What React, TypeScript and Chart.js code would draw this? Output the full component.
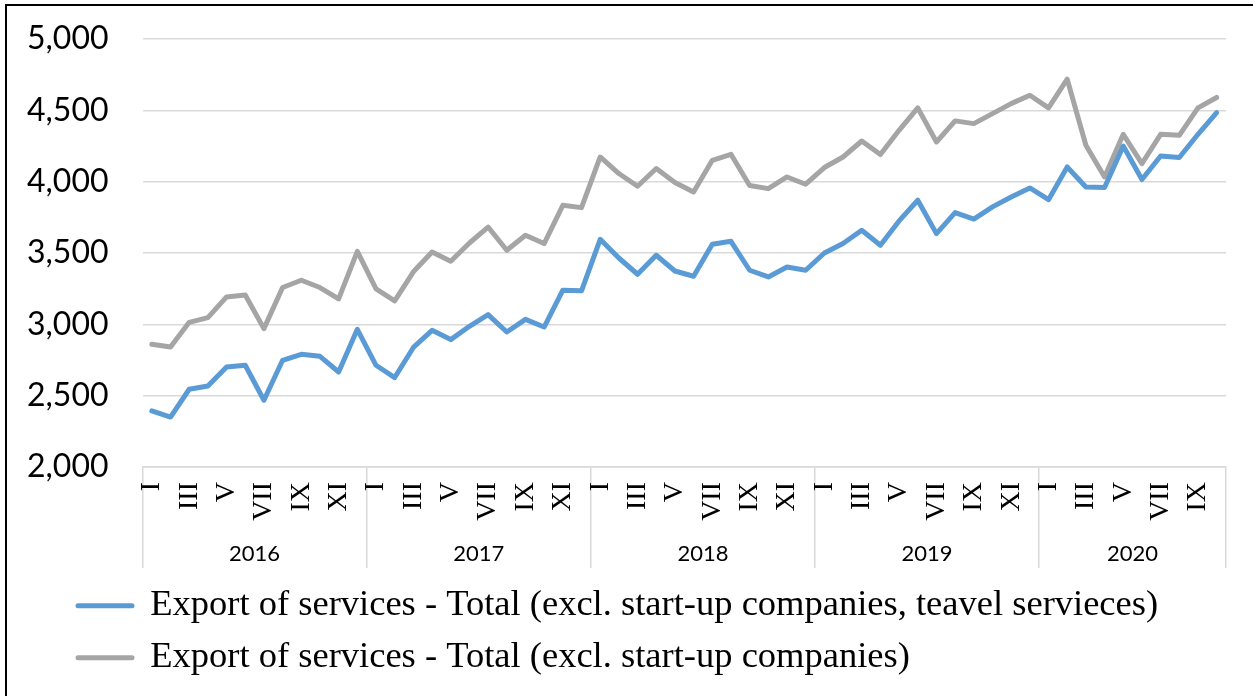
import React, { useEffect, useRef } from "react";
import { Chart, registerables } from "chart.js";

Chart.register(...registerables);

// ---- data ----
const years = ["2016", "2017", "2018", "2019", "2020"];
const monthsPerYear = [12, 12, 12, 12, 10];
const monthNumerals = ["I", "II", "III", "IV", "V", "VI", "VII", "VIII", "IX", "X", "XI", "XII"];

const seriesNames = [
  "Export of services - Total (excl. start-up companies, teavel servieces)",
  "Export of services - Total (excl. start-up companies)",
];

const exportExclTravel = [
  2393, 2350, 2545, 2568, 2701, 2713, 2468, 2748, 2790, 2776, 2666, 2965,
  2713, 2627, 2838, 2958, 2893, 2986, 3068, 2946, 3035, 2981, 3239, 3235,
  3596, 3465, 3351, 3484, 3374, 3337, 3561, 3582, 3379, 3332, 3402, 3379,
  3500, 3566, 3659, 3554, 3725, 3870, 3636, 3783, 3738, 3823, 3893, 3956,
  3874, 4103, 3963, 3959, 4250, 4015, 4180, 4169, 4332, 4484,
];

const exportTotal = [
  2860, 2841, 3014, 3047, 3192, 3206, 2970, 3258, 3309, 3258, 3178, 3512,
  3248, 3164, 3368, 3507, 3442, 3570, 3682, 3519, 3624, 3566, 3834, 3818,
  4173, 4057, 3968, 4092, 3994, 3928, 4150, 4192, 3973, 3951, 4033, 3982,
  4099, 4173, 4285, 4190, 4360, 4517, 4278, 4426, 4407, 4477, 4547, 4606,
  4517, 4718, 4255, 4033, 4332, 4127, 4332, 4325, 4517, 4590,
];

const yMin = 2000;
const yMax = 5000;
const yStep = 500;

const BLUE = "#5B9BD5";
const GREY = "#A5A5A5";
const GRID = "#D9D9D9";

// let the y tick labels use the room to the left of the axis box (no clipping)
const yLabelRoom = {
  id: "yLabelRoom",
  afterLayout(chart: any) {
    const y = chart.scales.y;
    if (y) y.left = 0;
  },
};

export default function App() {
  const ref = useRef<HTMLCanvasElement>(null);

  useEffect(() => {
    const labels: string[] = [];
    const yearStarts: number[] = [];
    const yearCenters: number[] = [];
    let k = 0;
    years.forEach((_, yi) => {
      yearStarts.push(k);
      yearCenters.push(k + monthsPerYear[yi] / 2 - 0.5);
      for (let m = 0; m < monthsPerYear[yi]; m++) labels.push(monthNumerals[m]);
      k += monthsPerYear[yi];
    });
    const n = labels.length;

    const chart = new Chart(ref.current as HTMLCanvasElement, {
      type: "line",
      data: {
        labels,
        datasets: [
          {
            label: seriesNames[0],
            data: exportExclTravel,
            borderColor: BLUE,
            backgroundColor: BLUE,
            borderWidth: 5,
            pointRadius: 0,
            tension: 0,
            fill: false,
            borderJoinStyle: "round",
            borderCapStyle: "round",
          },
          {
            label: seriesNames[1],
            data: exportTotal,
            borderColor: GREY,
            backgroundColor: GREY,
            borderWidth: 5,
            pointRadius: 0,
            tension: 0,
            fill: false,
            borderJoinStyle: "round",
            borderCapStyle: "round",
          },
        ],
      },
      plugins: [yLabelRoom],
      options: {
        responsive: false,
        animation: false,
        layout: { padding: { left: 62.5, right: 27, top: 39, bottom: 10 } },
        plugins: {
          tooltip: { enabled: false },
          legend: {
            position: "bottom",
            align: "start",
            labels: {
              font: { family: "'Liberation Serif', serif", size: 36.5 },
              color: "#000",
              boxWidth: 54,
              boxHeight: 0,
              padding: 15.5,
            },
          },
        },
        scales: {
          x: {
            type: "category",
            position: "bottom",
            offset: true,
            weight: 0,
            grid: {
              offset: true,
              drawOnChartArea: false,
              drawTicks: true,
              tickLength: 101,
              lineWidth: 1.5,
              color: (c: any) =>
                c.type !== "tick" || yearStarts.includes(c.index) ? GRID : "rgba(0,0,0,0)",
            },
            border: { display: true, color: GRID, width: 1.5 },
            ticks: {
              autoSkip: false,
              minRotation: 90,
              maxRotation: 90,
              padding: -86,
              color: "#000",
              font: { family: "'Liberation Serif', serif", size: 28 },
              callback: function (this: any, value: any, index: number) {
                return index % 2 === 0 ? this.getLabelForValue(value) : "";
              },
            },
            afterFit: (s: any) => {
              s.height = 70;
            },
          },
          x2: {
            type: "linear",
            axis: "x",
            position: "bottom",
            weight: 1,
            min: -0.5,
            max: n - 0.5,
            grid: { display: false },
            border: { display: false },
            ticks: {
              autoSkip: false,
              maxRotation: 0,
              padding: -4,
              color: "#000",
              font: { family: "Lato, sans-serif", size: 22 },
              callback: (_v: any, index: number) => years[index] ?? "",
            },
            afterBuildTicks: (s: any) => {
              s.ticks = yearCenters.map((v) => ({ value: v }));
            },
            afterFit: (s: any) => {
              s.height = 35;
            },
          },
          y: {
            min: yMin,
            max: yMax,
            grid: { color: GRID, lineWidth: 1.5, drawTicks: false },
            border: { display: false },
            ticks: {
              stepSize: yStep,
              padding: 34,
              color: "#000",
              font: { family: "Lato, sans-serif", size: 32 },
              callback: (v: any) => Number(v).toLocaleString("en-US"),
            },
            afterFit: (s: any) => {
              s.width = 80;
              s.paddingTop = 0;
              s.paddingBottom = 0;
            },
          },
        },
      },
    } as any);

    return () => chart.destroy();
  }, []);

  return (
    <div
      style={{
        position: "fixed",
        left: 0,
        top: 0,
        width: 1253,
        height: 696,
        background: "#fff",
        overflow: "hidden",
      }}
    >
      <canvas ref={ref} width={1253} height={696} style={{ display: "block" }} />
      <div
        style={{
          position: "absolute",
          left: 5,
          top: 4,
          right: 0,
          bottom: 0,
          borderLeft: "2px solid #000",
          borderTop: "2px solid #000",
          pointerEvents: "none",
        }}
      />
    </div>
  );
}
